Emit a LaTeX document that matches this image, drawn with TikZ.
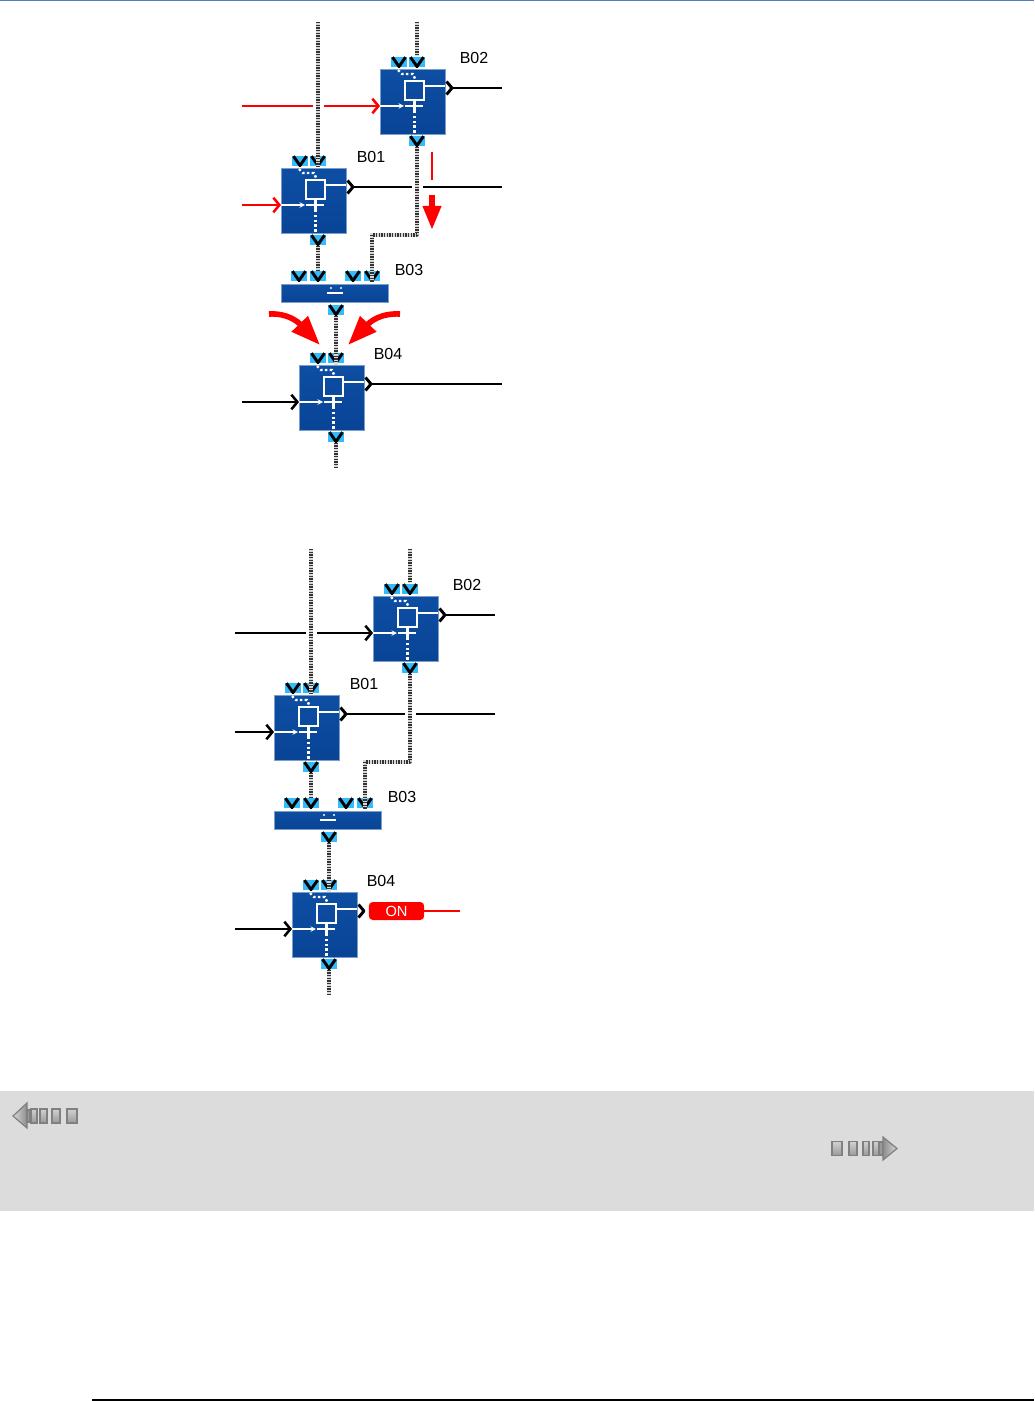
\documentclass[tikz,border=0pt]{standalone}
\usepackage{fontspec}
\setmainfont{Liberation Sans}
\usetikzlibrary{arrows.meta}
\begin{document}
\begin{tikzpicture}[x=.75pt,y=-.75pt,>=stealth]
\useasboundingbox (0,0) rectangle (1034,1401);
\definecolor{fbdblue}{RGB}{13,78,163}
\definecolor{fbddark}{RGB}{9,68,150}
\definecolor{portcyan}{RGB}{51,187,250}
\definecolor{alarmred}{RGB}{255,0,0}
\definecolor{navgray}{RGB}{220,220,220}
\definecolor{ruleblue}{RGB}{79,129,189}
\tikzset{
  fblock/.style={draw=fbdblue!55!white, line width=.4pt, top color=fbdblue, bottom color=fbddark, anchor=north west, inner sep=0pt, minimum width=48.4pt, minimum height=48.4pt},
  rail/.style={fblock, minimum width=80.6pt, minimum height=13.5pt},
  port/.style={fill=portcyan, inner sep=0pt, minimum width=12.5pt, minimum height=8.2pt,
    path picture={\draw[black, line width=2.2pt]
      ([xshift=-4.9pt,yshift=3.6pt]path picture bounding box.center) --
      ([yshift=-3.4pt]path picture bounding box.center) --
      ([xshift=4.9pt,yshift=3.6pt]path picture bounding box.center);}},
  wire/.style={draw=black!80, line width=2.8pt, line join=round, dash pattern=on .95pt off 1.05pt, preaction={draw=black!15, line width=2.8pt, solid}},
  fork/.style={draw=black, line width=2.2pt, line join=round},
  outline/.style={draw=black, line width=2pt},
  inline/.style={line width=1.9pt, -{Straight Barb[length=4.5pt,width=11pt,line width=1.9pt]}},
  plainline/.style={line width=1.9pt},
  inner/.style={draw=white, line width=.8pt},
  whitedots/.style={draw=white, line width=1.8pt, dash pattern=on 1.8pt off 1.8pt},
  blocklabel/.style={font=\fontsize{12}{14}\selectfont, inner sep=0pt},
  bigred/.style={draw=alarmred, line width=4.2pt, -{Triangle[length=22pt,width=16pt,fill=alarmred]}},
  navsq/.style={draw=black!50, line width=.9pt, top color=black!18, bottom color=black!40, inner sep=0pt, minimum height=10.5pt}
}

\fill[navgray] (0,1091) rectangle (1034,1211);
\draw[ruleblue, line width=1.2pt] (0,.5) -- (1034,.5);
\draw[black, line width=1.2pt] (92,1400) -- (1034,1400);

\foreach \p/\dx/\dy/\ic in {t/0/0/alarmred,u/-7/527/black}{
\begin{scope}[shift={(\dx,\dy)}]
  \foreach \n/\x/\y/\lx in {B02/380/69/474,B01/281/168/371,B04/299/365/388}{
    \node[fblock] (\p\n) at (\x,\y) {};
    \node[blocklabel] (\p\n-t) at (\lx,\y-11.5) {\n};
    \node[port] (\p\n-a) at (\x+19,\y-7) {};
    \node[port] (\p\n-b) at (\x+37,\y-7) {};
    \node[port] (\p\n-o) at (\x+37,\y+72) {};
    \coordinate (\p\n-in) at (\x,\y+37);
    \coordinate (\p\n-out) at (\x+72,\y+19);
    \begin{scope}[shift={(\x,\y)}]
      \draw[inner, line width=2pt] (25,12) rectangle (44,31);
      \draw[inner] (44,17) -- (65,17);
      \draw[inner,->] (0,37) -- (24,37);
      \draw[inner, line width=2pt] (25,37) -- (43,37) (34.5,32) -- (34.5,42);
      \draw[whitedots] (34.5,42) -- (34.5,65);
      \draw[whitedots] (18,1) -- (22,5) -- (33,5) -- (36,12);
      \draw[fork] (66.5,12.5) -- (72,19) -- (66.5,25.5);
    \end{scope}
  }
  \node[rail] (\p B03) at (281,284) {};
  \node[blocklabel] (\p B03-t) at (409,269.5) {B03};
  \foreach \q/\x in {a/299,b/318,c/353,d/372}
    \node[port] (\p B03-\q) at (\x,276) {};
  \node[port] (\p B03-o) at (336,310) {};
  \draw[white, line width=1.8pt] (327,293) -- (343,293);
  \fill[white] (331,288) circle (1.1) (341,288) circle (1.1);

  \coordinate (\p w1) at (318,22);
  \coordinate (\p w2) at (417,22);
  \coordinate (\p bend) at (372,235);
  \coordinate (\p w3) at (336,467);
  \draw[wire] (\p w1) -- (\p B01-b.south);
  \draw[wire] (\p w2) -- (\p B02-b.north);
  \draw[wire] (\p B02-o.south) |- (\p bend) -- (\p B03-d.south);
  \draw[wire] (\p B01-o.south) -- (\p B03-b.north);
  \draw[wire] (\p B03-o.south) -- (\p B04-b.south);
  \draw[wire] (\p B04-o.south) -- (\p w3);

  \coordinate (\p i1) at (242,106);
  \coordinate (\p i2) at (313,106);
  \coordinate (\p i3) at (324,106);
  \coordinate (\p i4) at (242,205);
  \coordinate (\p i5) at (242,402);
  \draw[plainline,\ic] (\p i1) -- (\p i2);
  \draw[inline,\ic] (\p i3) -- (\p B02-in);
  \draw[inline,\ic] (\p i4) -- (\p B01-in);
  \draw[inline,black] (\p i5) -- (\p B04-in);

  \coordinate (\p o1) at (502,88);
  \coordinate (\p o2) at (412,187);
  \coordinate (\p o3) at (423,187);
  \coordinate (\p o4) at (502,187);
  \draw[outline] (\p B02-out) -- (\p o1);
  \draw[outline] (\p B01-out) -- (\p o2);
  \draw[outline] (\p o3) -- (\p o4);
\end{scope}
}

\coordinate (o5) at (502,384);
\draw[outline] (tB04-out) -- (o5);

\coordinate (r1) at (432,152);
\coordinate (r2) at (432,180);
\coordinate (r3) at (432,195);
\coordinate (r4) at (432,230);
\draw[alarmred, line width=2.2pt] (r1) -- (r2);
\draw[bigred, -{Triangle[length=18pt,width=13pt,fill=alarmred]}] (r3) -- (r4);

\coordinate (cl1) at (269,314);
\coordinate (cl2) at (320,345);
\coordinate (cr1) at (400,314);
\coordinate (cr2) at (348,345);
\draw[bigred] (cl1) .. controls (288,313) and (298,322) .. (cl2);
\draw[bigred] (cr1) .. controls (380,313) and (370,322) .. (cr2);

\node[fill=alarmred, rounded corners=3pt, text=white, font=\fontsize{11}{13}\selectfont, inner sep=0pt, minimum width=41.5pt, minimum height=13.5pt] (on) at (396.5,911) {ON};
\coordinate (o6) at (460,911);
\draw[alarmred, line width=1.7pt] (on.east) -- (o6);

\foreach \i/\a/\b in {1/31/37,2/40/47,3/52/60,4/67/77}
  \node[navsq, minimum width=\b*.75pt-\a*.75pt] (navl\i) at ({(\a+\b)/2},1116) {};
\draw[draw=black!50, line width=.9pt, left color=black!15, right color=black!45] (13,1116) -- (27,1103) -- (27,1128) -- cycle;
\draw[draw=black!50, line width=.9pt, fill=black!40] (27,1110) rectangle (30,1122);

\foreach \i/\a/\b in {1/832/842,2/849/857,3/863/869,4/873/879}
  \node[navsq, minimum width=\b*.75pt-\a*.75pt] (navr\i) at ({(\a+\b)/2},1148.5) {};
\draw[draw=black!50, line width=.9pt, fill=black!40] (879,1142) rectangle (883,1155);
\draw[draw=black!50, line width=.9pt, left color=black!45, right color=black!15] (897,1148.5) -- (883,1137) -- (883,1160) -- cycle;
\end{tikzpicture}
\end{document}
